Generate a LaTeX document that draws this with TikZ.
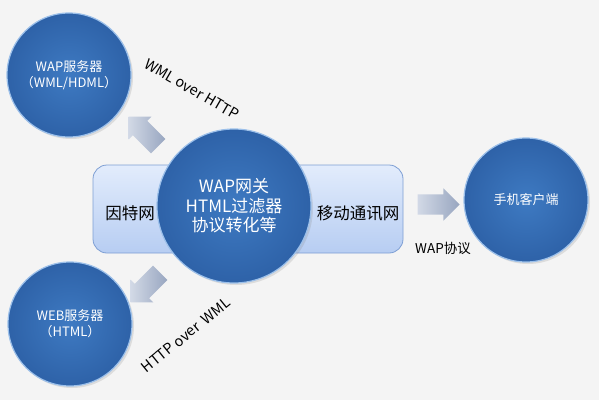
\documentclass[tikz,border=0pt]{standalone}
\usepackage{fontspec}
\setmainfont{Noto Sans CJK SC}
\usepackage{xcolor}
\usetikzlibrary{shapes.arrows,shadows,calc}

\definecolor{bgGray}{HTML}{F4F4F4}
\definecolor{ballBlue}{HTML}{3E7AC2}
\definecolor{ballDark}{HTML}{2E62A8}
\definecolor{ballRim}{HTML}{9CC0EA}
\definecolor{netTop}{HTML}{E2ECFC}
\definecolor{netBottom}{HTML}{B7CDF2}
\definecolor{netBorder}{HTML}{7E9FD4}
\definecolor{arrLight}{HTML}{D2D9E6}
\definecolor{arrDark}{HTML}{98A6C0}

\tikzset{
  server/.style={circle, inner sep=0pt, minimum size=124pt, align=center,
    inner color=ballBlue, outer color=ballDark, draw=ballRim, line width=1.2pt,
    text=white, font=\fontsize{13}{16}\selectfont,
    drop shadow={opacity=0.2, shadow xshift=2pt, shadow yshift=-2pt}},
  netbox/.style={rectangle, rounded corners=14pt, draw=netBorder, line width=0.8pt,
    top color=netTop, bottom color=netBottom, minimum width=310pt, minimum height=88pt},
  flowarrow/.style={single arrow, draw=none, inner xsep=0pt, inner ysep=10pt,
    minimum height=42pt, single arrow head extend=6pt,
    left color=arrLight, right color=arrDark},
  proto/.style={font=\fontsize{14.5}{17}\selectfont, text=black, inner sep=1pt}
}

\begin{document}
\begin{tikzpicture}[x=1pt,y=1pt]
        % Background
        \fill[bgGray] (0,0) rectangle (599,400);
        \useasboundingbox (0,0) rectangle (599,400);

        % Networks behind the gateway
        \node[netbox] (net) at (248,191) {};
        \node[font=\fontsize{16.5}{20}\selectfont] (inet) at (130,187) {因特网};
        \node[font=\fontsize{16.5}{20}\selectfont] (mobile) at (358,187) {移动通讯网};

        % Servers and client
        \node[server] (wap) at (69,325) {WAP服务器\\（WML/HDML）};
        \node[server] (web) at (70,76) {WEB服务器\\（HTML）};
        \node[server] (client) at (526,200) {手机客户端};

        % Gateway
        \node[server, minimum size=154pt, font=\fontsize{17}{19.5}\selectfont]
            (gw) at (234,194) {WAP网关\\HTML过滤器\\协议转化等};

        % Block arrows
        \node[flowarrow, rotate=135] (toWap) at (147,265) {};
        \node[flowarrow, rotate=225] (toWeb) at (149,116) {};
        \node[flowarrow] (toClient) at ($(net.east)!0.5!(client.west)$) {};

        % Protocol labels
        \node[proto, rotate=-30] (wmlHttp) at (192,311) {WML over HTTP};
        \node[proto, rotate=39] (httpWml) at (186,65) {HTTP over~~WML};
        \node[proto, font=\fontsize{13.5}{16}\selectfont] (wapProto) at (443,152) {WAP协议};
    \end{tikzpicture}
\end{document}
